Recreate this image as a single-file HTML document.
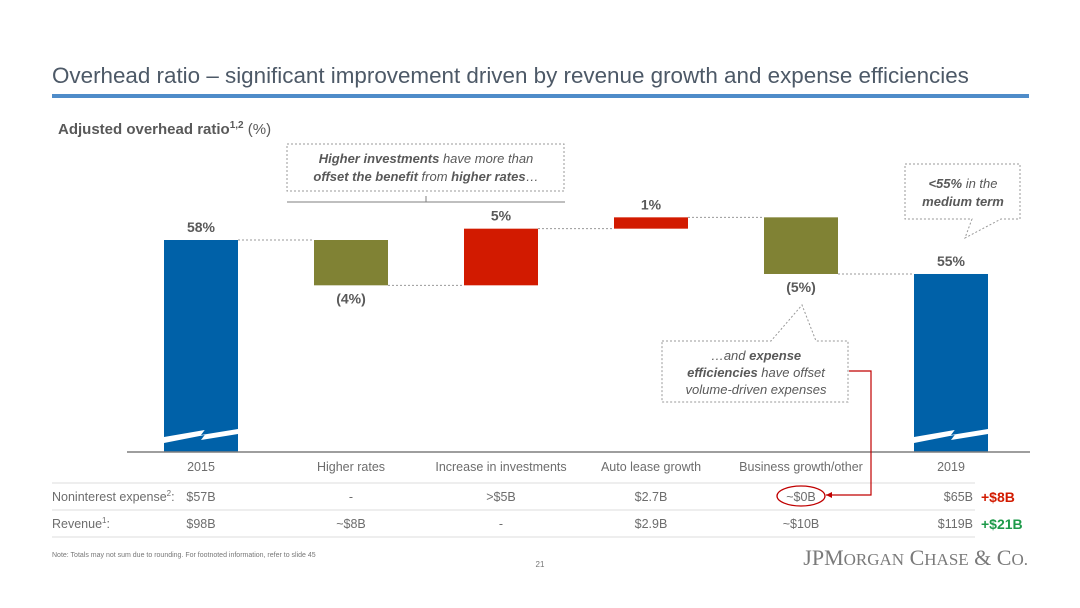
<!DOCTYPE html>
<html><head><meta charset="utf-8"><style>
body{margin:0;background:#fff;font-family:"Liberation Sans",sans-serif;}
#wrap{position:relative;width:1080px;height:608px;overflow:hidden;}
</style></head><body>
<div id="wrap">
<svg width="1080" height="608" font-family="Liberation Sans, sans-serif">
<text x="52" y="83" font-size="22.4" fill="#4d5967">Overhead ratio – significant improvement driven by revenue growth and expense efficiencies</text>
<rect x="52" y="94" width="977" height="4" fill="#4f8cc9"/>
<text x="58" y="134" font-size="15" fill="#595959"><tspan font-weight="bold">Adjusted overhead ratio</tspan><tspan font-weight="bold" font-size="10" dy="-6">1,2</tspan><tspan dy="6"> (%)</tspan></text>
<g id="bars"></g>
<line x1="127" y1="452" x2="1030" y2="452" stroke="#7f7f7f" stroke-width="1.5"/>
<g id="table" font-size="12.5" fill="#6d6d6d"></g>
<g>
<rect x="287" y="144" width="277" height="47" fill="none" stroke="#999" stroke-dasharray="2,2"/>
<text x="426" y="163" font-size="13" font-style="italic" fill="#595959" text-anchor="middle"><tspan font-weight="bold">Higher investments</tspan> have more than</text>
<text x="426" y="181" font-size="13" font-style="italic" fill="#595959" text-anchor="middle"><tspan font-weight="bold">offset the benefit</tspan> from <tspan font-weight="bold">higher rates</tspan>…</text>
<line x1="287" y1="202" x2="565" y2="202" stroke="#7f7f7f"/>
<line x1="426" y1="196" x2="426" y2="202" stroke="#7f7f7f"/>
</g>
<g>
<path d="M905,164 H1020 V219 H1001 L965,238 L972,219 H905 Z" fill="none" stroke="#999" stroke-dasharray="2,2"/>
<text x="963" y="188" font-size="13" font-style="italic" fill="#595959" text-anchor="middle"><tspan font-weight="bold">&lt;55%</tspan> in the</text>
<text x="963" y="206" font-size="13" font-style="italic" fill="#595959" text-anchor="middle" font-weight="bold">medium term</text>
</g>
<g>
<path d="M662,341 H771 L802,305 L816,341 H848 V402 H662 Z" fill="none" stroke="#999" stroke-dasharray="2,2"/>
<text x="756" y="360" font-size="13" font-style="italic" fill="#595959" text-anchor="middle">…and <tspan font-weight="bold">expense</tspan></text>
<text x="756" y="377" font-size="13" font-style="italic" fill="#595959" text-anchor="middle"><tspan font-weight="bold">efficiencies</tspan> have offset</text>
<text x="756" y="394" font-size="13" font-style="italic" fill="#595959" text-anchor="middle">volume-driven expenses</text>
<path d="M849,371 H871 V495 H826" fill="none" stroke="#c00000" stroke-width="1.2"/>
<path d="M826,495 l6,-3 v6 z" fill="#c00000"/>
<ellipse cx="801" cy="496" rx="24" ry="10" fill="none" stroke="#c00000" stroke-width="1.3"/>
</g>
<text x="52" y="557" font-size="7" fill="#777">Note: Totals may not sum due to rounding. For footnoted information, refer to slide 45</text>
<text x="540" y="567" font-size="8" fill="#777" text-anchor="middle">21</text>
<text x="1028" y="565" font-size="22" font-family="Liberation Serif, serif" fill="#7a7a7a" text-anchor="end">JPM<tspan font-size="17">ORGAN</tspan> C<tspan font-size="17">HASE</tspan> &amp; C<tspan font-size="17">O.</tspan></text>
</svg>
</div>
<script>
const categories=["2015","Higher rates","Increase in investments","Auto lease growth","Business growth/other","2019"];
const startValue=58;
const deltas=[-4,5,1,-5];
const endValue=55;
const barLabels=["58%","(4%)","5%","1%","(5%)","55%"];
const expenseRow=["$57B","-",">$5B","$2.7B","~$0B","$65B"];
const revenueRow=["$98B","~$8B","-","$2.9B","~$10B","$119B"];
const NS="http://www.w3.org/2000/svg";
const bx=i=>201+i*150;
const yv=v=>240+(58-v)*11.33;
const base=452,bw=74;
function mk(t,a,p){const e=document.createElementNS(NS,t);for(const k in a)e.setAttribute(k,a[k]);p.appendChild(e);return e;}
const g=document.getElementById('bars');
let cum=startValue;const segs=[];
segs.push({lo:0,hi:startValue,tot:true});
deltas.forEach(d=>{segs.push({lo:Math.min(cum,cum+d),hi:Math.max(cum,cum+d),d:d});cum+=d;});
segs.push({lo:0,hi:endValue,tot:true});
let prevEnd=null;
segs.forEach((s,i)=>{
 const x=bx(i)-bw/2;
 const top=yv(s.hi);const bot=s.tot?base:yv(s.lo);
 const col=s.tot?"#0061a8":(s.d<0?"#808234":"#d21a00");
 const r=mk('rect',{x:x,y:top,width:bw,height:bot-top,fill:col},g);
 
 
 if(s.tot){
  const p=mk('polygon',{points:`${x},${437} ${x+bw*0.55},${430} ${x+bw*0.5},${435} ${x+bw},${429} ${x+bw},${434} ${x+bw*0.5},${440} ${x+bw*0.55},${435} ${x},${443}`,fill:"#fff"},g);
  
  
 }
 if(i>0){
  const lvl = prevEnd;
  const ln=mk('line',{x1:bx(i-1)+bw/2,x2:x,y1:yv(lvl),y2:yv(lvl),stroke:"#999","stroke-dasharray":"2,2"},g);
  
  
 }
 prevEnd = i===0? startValue : (s.tot? s.hi : (s.d<0? s.lo : s.hi));
 const neg=!s.tot&&s.d<0;
 const t=mk('text',{x:bx(i),y:neg?bot+18:top-8,"font-size":14,"font-weight":"bold",fill:"#595959","text-anchor":"middle"},g);
 t.textContent=barLabels[i];
 
 
 const c=mk('text',{x:bx(i),y:471,"font-size":12.5,fill:"#6d6d6d","text-anchor":"middle"},document.getElementById('table'));
 c.textContent=categories[i];
 
 
 const e=mk('text',{x:i===5?bx(i)+22:bx(i),y:501,"font-size":12.5,fill:"#6d6d6d","text-anchor":i===5?"end":"middle"},document.getElementById('table'));
 e.textContent=expenseRow[i];
 
 
 const rv=mk('text',{x:i===5?bx(i)+22:bx(i),y:528,"font-size":12.5,fill:"#6d6d6d","text-anchor":i===5?"end":"middle"},document.getElementById('table'));
 rv.textContent=revenueRow[i];
 
 
});
const tb=document.getElementById('table');
[483,510,537].forEach(y=>{const l=mk('line',{x1:52,x2:975,y1:y,y2:y,stroke:"#dcdcdc"},tb);});
const h1=mk('text',{x:52,y:501,"font-size":12.5,fill:"#6d6d6d"},tb);h1.innerHTML='Noninterest expense<tspan font-size="8" dy="-5">2</tspan><tspan dy="5">:</tspan>';


const h2=mk('text',{x:52,y:528,"font-size":12.5,fill:"#6d6d6d"},tb);h2.innerHTML='Revenue<tspan font-size="8" dy="-5">1</tspan><tspan dy="5">:</tspan>';


const d1=mk('text',{x:981,y:502,"font-size":14,"font-weight":"bold",fill:"#d21a00"},tb);d1.textContent="+$8B";


const d2=mk('text',{x:981,y:529,"font-size":14,"font-weight":"bold",fill:"#1e9a4a"},tb);d2.textContent="+$21B";


</script>
</body></html>
